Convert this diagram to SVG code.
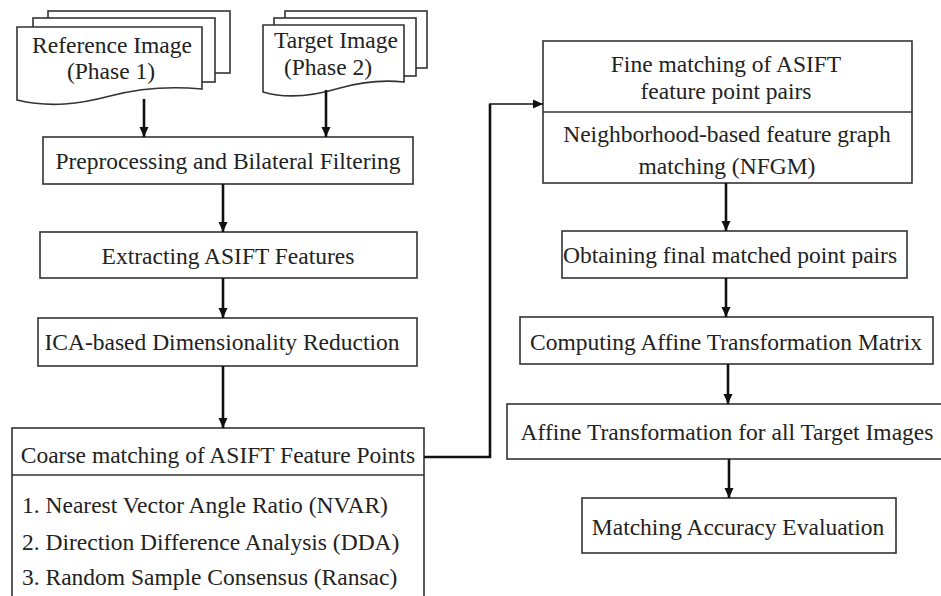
<svg xmlns="http://www.w3.org/2000/svg" width="941" height="596" viewBox="0 0 941 596">
<style>
  .box { fill: #fff; stroke: #333; stroke-width: 1.6; }
  .t { font-family: 'Liberation Serif', 'Times New Roman', 'DejaVu Serif', serif; font-size: 23.5px; fill: #222; }
  .c { text-anchor: middle; }
  .con { fill: none; stroke: #111; stroke-width: 2.6; }
  .thin { fill: none; stroke: #111; stroke-width: 1.6; }
</style>
<defs>
  <marker id="ah" markerUnits="userSpaceOnUse" markerWidth="10" markerHeight="10" viewBox="0 0 10 10" refX="10" refY="5" orient="auto">
    <path d="M0,0.5 L10,5 L0,9.5 Z" fill="#111"/>
  </marker>
</defs>
<rect width="941" height="596" fill="#fff"/>

<g id="reference-image">
  <rect class="box" x="48" y="11" width="182" height="62"/>
  <rect class="box" x="33" y="18" width="182" height="64"/>
  <path class="box" d="M17,27 H202 V89 C170,86 140,88 110,96 C80,104 50,108 17,100 Z"/>
  <text class="t c" font-family="Liberation Serif, serif" x="112" y="53">Reference Image</text>
  <text class="t c" font-family="Liberation Serif, serif" x="111" y="79">(Phase 1)</text>
</g>

<g id="target-image">
  <rect class="box" x="285" y="11" width="142" height="57"/>
  <rect class="box" x="274" y="18" width="142" height="58"/>
  <path class="box" d="M263,25 H404 V82 C385,80 365,81 340,88 C320,94 290,100 263,92 Z"/>
  <text class="t c" x="336" y="48">Target Image</text>
  <text class="t c" x="328" y="75">(Phase 2)</text>
</g>

<g id="preprocessing">
  <rect class="box" x="43" y="137" width="370" height="47"/>
  <text class="t c" x="228" y="169">Preprocessing and Bilateral Filtering</text>
</g>

<g id="extracting">
  <rect class="box" x="40" y="232" width="377" height="46"/>
  <text class="t c" x="228" y="264">Extracting ASIFT Features</text>
</g>

<g id="ica">
  <rect class="box" x="38" y="318" width="379" height="48"/>
  <text class="t c" x="222" y="350">ICA-based Dimensionality Reduction</text>
</g>

<g id="coarse">
  <rect class="box" x="12" y="428" width="412" height="180"/>
  <line class="box" x1="12" y1="475" x2="424" y2="475"/>
  <text class="t c" x="218" y="463">Coarse matching of ASIFT Feature Points</text>
  <text class="t" x="22" y="513">1. Nearest Vector Angle Ratio (NVAR)</text>
  <text class="t" x="22" y="550">2. Direction Difference Analysis (DDA)</text>
  <text class="t" x="22" y="585">3. Random Sample Consensus (Ransac)</text>
</g>

<g id="fine">
  <rect class="box" x="543" y="41" width="369" height="142"/>
  <line class="box" x1="543" y1="112" x2="912" y2="112"/>
  <text class="t c" x="726" y="72">Fine matching of ASIFT</text>
  <text class="t c" x="726" y="99">feature point pairs</text>
  <text class="t c" x="727" y="142">Neighborhood-based feature graph</text>
  <text class="t c" x="727" y="174">matching (NFGM)</text>
</g>

<g id="obtaining">
  <rect class="box" x="562" y="231" width="345" height="47"/>
  <text class="t c" x="730" y="263">Obtaining final matched point pairs</text>
</g>

<g id="computing">
  <rect class="box" x="520" y="317" width="413" height="47"/>
  <text class="t c" x="726" y="350">Computing Affine Transformation Matrix</text>
</g>

<g id="affine">
  <rect class="box" x="507" y="404" width="440" height="55"/>
  <text class="t c" x="727" y="440">Affine Transformation for all Target Images</text>
</g>

<g id="evaluation">
  <rect class="box" x="582" y="498" width="314" height="55"/>
  <text class="t c" x="738" y="535">Matching Accuracy Evaluation</text>
</g>

<g id="connectors">
  <line class="con" x1="144" y1="99" x2="144" y2="137" marker-end="url(#ah)"/>
  <line class="con" x1="326" y1="90" x2="326" y2="137" marker-end="url(#ah)"/>
  <line class="con" x1="223" y1="184" x2="223" y2="232" marker-end="url(#ah)"/>
  <line class="con" x1="223" y1="278" x2="223" y2="318" marker-end="url(#ah)"/>
  <line class="con" x1="223" y1="366" x2="223" y2="428" marker-end="url(#ah)"/>
  <path class="con" d="M424,457 H490 V104"/>
  <line class="thin" x1="489" y1="104" x2="543" y2="104" marker-end="url(#ah)"/>
  <line class="con" x1="726" y1="183" x2="726" y2="231" marker-end="url(#ah)"/>
  <line class="con" x1="726" y1="278" x2="726" y2="317" marker-end="url(#ah)"/>
  <line class="con" x1="728" y1="364" x2="728" y2="404" marker-end="url(#ah)"/>
  <line class="con" x1="729" y1="459" x2="729" y2="498" marker-end="url(#ah)"/>
</g>
</svg>
